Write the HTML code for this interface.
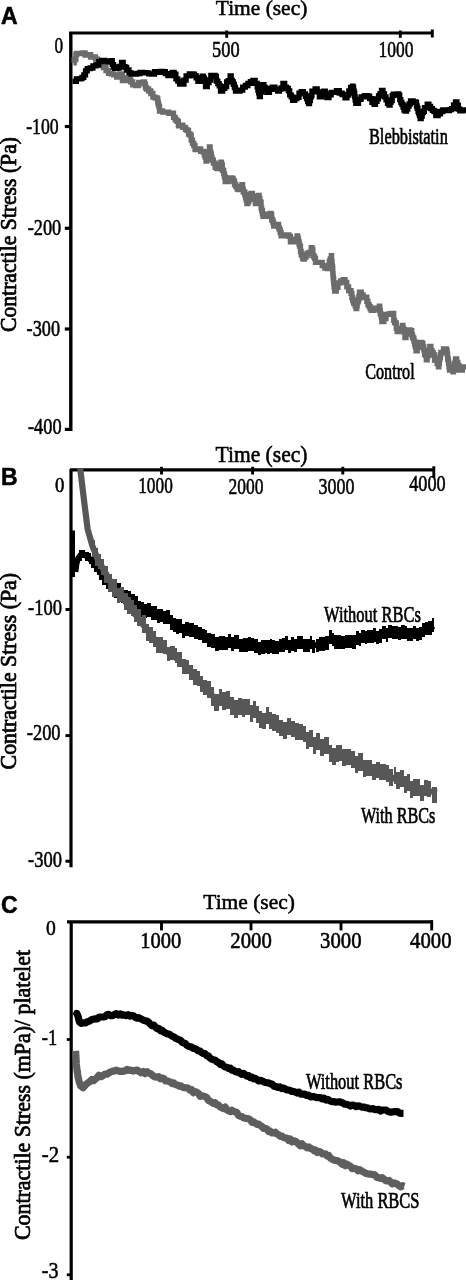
<!DOCTYPE html>
<html><head><meta charset="utf-8"><title>Figure</title>
<style>html,body{margin:0;padding:0;background:#fff;overflow:hidden}svg{display:block}</style></head>
<body><svg width="466" height="1280" viewBox="0 0 466 1280">
<rect width="466" height="1280" fill="#fff"/>
<defs><clipPath id="cb"><rect x="70" y="471.4" width="396" height="400"/></clipPath></defs>
<text x="1.0" y="23.7" font-family='"Liberation Sans", sans-serif' font-size="23" font-weight="bold" fill="#000" stroke="#000" stroke-width="0.55">A</text>
<text x="215.8" y="15.4" font-family='"Liberation Serif", serif' font-size="22" font-weight="normal" fill="#000" stroke="#000" stroke-width="0.55" textLength="91.5" lengthAdjust="spacingAndGlyphs">Time (sec)</text>
<line x1="69.1" y1="33.0" x2="433.0" y2="33.0" stroke="#000" stroke-width="3.1"/>
<line x1="226.7" y1="30.5" x2="226.7" y2="37.8" stroke="#000" stroke-width="2.9"/>
<line x1="400.3" y1="30.5" x2="400.3" y2="37.8" stroke="#000" stroke-width="2.9"/>
<line x1="432.3" y1="29.5" x2="432.3" y2="37.5" stroke="#000" stroke-width="2.9"/>
<line x1="70.8" y1="32.0" x2="70.8" y2="431.0" stroke="#000" stroke-width="3.4"/>
<line x1="64.8" y1="126.5" x2="70.0" y2="126.5" stroke="#000" stroke-width="3.2"/>
<line x1="64.8" y1="228.3" x2="70.0" y2="228.3" stroke="#000" stroke-width="3.2"/>
<line x1="64.8" y1="329.0" x2="70.0" y2="329.0" stroke="#000" stroke-width="3.2"/>
<line x1="64.8" y1="429.4" x2="70.0" y2="429.4" stroke="#000" stroke-width="3.2"/>
<text x="54.5" y="52.5" font-family='"Liberation Serif", serif' font-size="22.5" font-weight="normal" fill="#000" stroke="#000" stroke-width="0.55" textLength="8.6" lengthAdjust="spacingAndGlyphs">0</text>
<text x="26.2" y="134.2" font-family='"Liberation Serif", serif' font-size="22.5" font-weight="normal" fill="#000" stroke="#000" stroke-width="0.55" textLength="32.5" lengthAdjust="spacingAndGlyphs">-100</text>
<text x="27.7" y="235.0" font-family='"Liberation Serif", serif' font-size="22.5" font-weight="normal" fill="#000" stroke="#000" stroke-width="0.55" textLength="33.6" lengthAdjust="spacingAndGlyphs">-200</text>
<text x="26.6" y="336.0" font-family='"Liberation Serif", serif' font-size="22.5" font-weight="normal" fill="#000" stroke="#000" stroke-width="0.55" textLength="33.4" lengthAdjust="spacingAndGlyphs">-300</text>
<text x="28.0" y="433.7" font-family='"Liberation Serif", serif' font-size="22.5" font-weight="normal" fill="#000" stroke="#000" stroke-width="0.55" textLength="33.6" lengthAdjust="spacingAndGlyphs">-400</text>
<text x="212.0" y="56.9" font-family='"Liberation Serif", serif' font-size="22.5" font-weight="normal" fill="#000" stroke="#000" stroke-width="0.55" textLength="27.6" lengthAdjust="spacingAndGlyphs">500</text>
<text x="378.6" y="57.4" font-family='"Liberation Serif", serif' font-size="22.5" font-weight="normal" fill="#000" stroke="#000" stroke-width="0.55" textLength="35.0" lengthAdjust="spacingAndGlyphs">1000</text>
<text x="369.0" y="143.8" font-family='"Liberation Serif", serif' font-size="23" font-weight="normal" fill="#000" stroke="#000" stroke-width="0.7" textLength="78.8" lengthAdjust="spacingAndGlyphs">Blebbistatin</text>
<text x="365.2" y="378.8" font-family='"Liberation Serif", serif' font-size="23" font-weight="normal" fill="#000" stroke="#000" stroke-width="0.7" textLength="49.5" lengthAdjust="spacingAndGlyphs">Control</text>
<text transform="translate(15.7,332.0) rotate(-90)" font-family='"Liberation Serif", serif' font-size="22.5" fill="#000" stroke="#000" stroke-width="0.75" textLength="195.0" lengthAdjust="spacingAndGlyphs">Contractile Stress (Pa)</text>
<polyline points="73.4,62.9 74.2,62.9 74.2,59.8 75.1,59.8 75.1,59.0 75.9,59.0 75.9,54.5 76.7,54.5 76.7,53.5 79.5,53.5 79.5,53.5 82.3,53.5 82.3,53.0 85.1,53.0 85.1,55.1 87.9,55.1 87.9,54.7 90.7,54.7 90.7,57.1 93.5,57.1 93.5,57.0 95.5,57.0 95.5,59.1 97.5,59.1 97.5,62.2 99.5,62.2 99.5,65.6 101.5,65.6 101.5,65.2 103.5,65.2 103.5,67.6 106.0,67.6 106.0,70.6 108.5,70.6 108.5,73.4 111.1,73.4 111.1,73.8 113.6,73.8 113.6,74.8 116.7,74.8 116.7,77.0 119.8,77.0 119.8,74.0 122.4,74.0 122.4,80.7 126.7,80.7 126.7,77.9 128.7,77.9 128.7,79.7 130.7,79.7 130.7,81.9 132.7,81.9 132.7,84.8 135.7,84.8 135.7,85.6 138.7,85.6 138.7,82.4 141.1,82.4 141.1,82.8 143.5,82.8 143.5,82.0 144.5,82.0 144.5,84.1 145.5,84.1 145.5,87.7 146.5,87.7 146.5,89.0 148.6,89.0 148.6,91.0 150.8,91.0 150.8,93.5 152.9,93.5 152.9,97.1 155.1,97.1 155.1,97.8 157.2,97.8 157.2,98.9 157.8,98.9 157.8,102.4 158.3,102.4 158.3,104.6 158.9,104.6 158.9,106.7 159.5,106.7 159.5,111.0 162.7,111.0 162.7,112.2 165.8,112.2 165.8,112.1 168.8,112.1 168.8,113.3 171.8,113.3 171.8,113.1 173.5,113.1 173.5,117.3 175.2,117.3 175.2,119.8 176.9,119.8 176.9,121.3 178.4,121.3 178.4,125.9 180.0,125.9 180.0,125.2 182.8,125.2 182.8,127.4 185.5,127.4 185.5,129.7 187.0,129.7 187.0,130.3 188.5,130.3 188.5,134.0 190.0,134.0 190.0,135.1 191.2,135.1 191.2,140.2 192.5,140.2 192.5,143.4 193.8,143.4 193.8,145.7 195.0,145.7 195.0,149.7 197.8,149.7 197.8,148.9 200.6,148.9 200.6,151.3 203.4,151.3 203.4,152.1 204.3,152.1 204.3,154.8 205.1,154.8 205.1,157.1 206.0,157.1 206.0,161.2 206.8,161.2 206.8,158.6 207.7,158.6 207.7,154.1 208.6,154.1 208.6,151.9 209.4,151.9 209.4,146.9 210.1,146.9 210.1,151.6 210.7,151.6 210.7,153.9 211.4,153.9 211.4,157.6 212.1,157.6 212.1,159.6 212.7,159.6 212.7,160.3 213.4,160.3 213.4,163.1 215.1,163.1 215.1,167.4 216.8,167.4 216.8,168.6 218.1,168.6 218.1,167.8 219.5,167.8 219.5,164.6 220.8,164.6 220.8,162.2 221.5,162.2 221.5,164.8 222.3,164.8 222.3,170.0 223.0,170.0 223.0,170.6 223.7,170.6 223.7,173.8 224.5,173.8 224.5,177.0 225.2,177.0 225.2,181.5 228.5,181.5 228.5,177.9 231.8,177.9 231.8,178.3 233.1,178.3 233.1,181.0 234.5,181.0 234.5,184.5 235.8,184.5 235.8,186.7 237.2,186.7 237.2,189.2 238.5,189.2 238.5,189.5 240.2,189.5 240.2,187.5 241.9,187.5 241.9,184.7 242.6,184.7 242.6,189.1 243.3,189.1 243.3,192.0 244.0,192.0 244.0,191.9 244.8,191.9 244.8,194.7 245.5,194.7 245.5,197.5 246.2,197.5 246.2,200.2 246.9,200.2 246.9,203.6 247.9,203.6 247.9,201.5 248.9,201.5 248.9,197.8 249.9,197.8 249.9,194.4 250.9,194.4 250.9,193.3 252.4,193.3 252.4,196.0 253.8,196.0 253.8,199.4 255.3,199.4 255.3,203.5 257.0,203.5 257.0,199.3 258.6,199.3 258.6,195.4 259.2,195.4 259.2,198.6 259.9,198.6 259.9,201.6 260.5,201.6 260.5,202.4 261.1,202.4 261.1,208.1 261.7,208.1 261.7,210.6 262.4,210.6 262.4,213.8 263.0,213.8 263.0,216.4 266.6,216.4 266.6,214.2 270.3,214.2 270.3,213.4 271.0,213.4 271.0,215.0 271.7,215.0 271.7,219.5 272.3,219.5 272.3,220.3 273.0,220.3 273.0,222.9 273.7,222.9 273.7,226.1 277.7,226.1 277.7,224.3 278.6,224.3 278.6,227.8 279.4,227.8 279.4,229.7 280.2,229.7 280.2,232.5 281.1,232.5 281.1,235.9 284.1,235.9 284.1,234.9 287.1,234.9 287.1,235.0 288.8,235.0 288.8,236.4 290.4,236.4 290.4,241.8 293.8,241.8 293.8,239.2 297.1,239.2 297.1,235.9 297.8,235.9 297.8,238.9 298.5,238.9 298.5,241.8 299.1,241.8 299.1,244.5 299.8,244.5 299.8,246.3 300.5,246.3 300.5,251.3 301.2,251.3 301.2,254.4 301.8,254.4 301.8,255.3 302.5,255.3 302.5,257.9 303.2,257.9 303.2,259.2 304.5,259.2 304.5,257.0 305.9,257.0 305.9,255.6 307.2,255.6 307.2,253.1 309.2,253.1 309.2,252.5 311.2,252.5 311.2,247.6 312.1,247.6 312.1,249.9 312.9,249.9 312.9,255.7 313.8,255.7 313.8,256.9 314.6,256.9 314.6,258.3 315.5,258.3 315.5,262.3 318.9,262.3 318.9,262.3 322.2,262.3 322.2,265.7 324.8,265.7 324.8,268.1 327.3,268.1 327.3,268.5 328.3,268.5 328.3,265.3 329.3,265.3 329.3,261.2 330.3,261.2 330.3,259.0 331.3,259.0 331.3,255.7 331.6,255.7 331.6,260.4 331.8,260.4 331.8,262.2 332.1,262.2 332.1,265.6 332.3,265.6 332.3,266.7 332.6,266.7 332.6,269.0 332.8,269.0 332.8,273.6 333.1,273.6 333.1,276.9 333.3,276.9 333.3,279.0 333.6,279.0 333.6,281.5 333.8,281.5 333.8,284.2 334.1,284.2 334.1,286.6 334.3,286.6 334.3,287.4 334.6,287.4 334.6,291.1 336.3,291.1 336.3,287.3 338.0,287.3 338.0,282.9 340.6,282.9 340.6,280.8 343.2,280.8 343.2,279.7 345.0,279.7 345.0,282.4 346.8,282.4 346.8,286.8 348.6,286.8 348.6,290.6 351.0,290.6 351.0,293.3 351.9,293.3 351.9,297.6 352.7,297.6 352.7,300.5 353.6,300.5 353.6,303.0 354.4,303.0 354.4,303.6 355.2,303.6 355.2,305.8 356.1,305.8 356.1,308.5 356.7,308.5 356.7,305.5 357.2,305.5 357.2,302.7 357.8,302.7 357.8,301.2 358.4,301.2 358.4,299.3 358.9,299.3 358.9,296.2 359.5,296.2 359.5,292.1 361.3,292.1 361.3,294.9 363.1,294.9 363.1,297.5 365.0,297.5 365.0,297.2 366.8,297.2 366.8,301.3 367.9,301.3 367.9,304.6 369.1,304.6 369.1,306.6 370.2,306.6 370.2,308.9 371.3,308.9 371.3,310.4 374.0,310.4 374.0,308.2 376.6,308.2 376.6,309.0 379.3,309.0 379.3,306.2 379.8,306.2 379.8,310.5 380.3,310.5 380.3,313.7 380.8,313.7 380.8,314.4 381.3,314.4 381.3,317.1 381.8,317.1 381.8,321.6 383.9,321.6 383.9,318.6 386.0,318.6 386.0,314.4 388.6,314.4 388.6,313.8 391.2,313.8 391.2,313.4 393.7,313.4 393.7,320.3 394.6,320.3 394.6,322.7 395.4,322.7 395.4,323.2 396.3,323.2 396.3,328.3 397.2,328.3 397.2,331.6 399.8,331.6 399.8,328.4 402.3,328.4 402.3,325.3 402.9,325.3 402.9,328.5 403.6,328.5 403.6,329.6 404.2,329.6 404.2,331.8 404.9,331.8 404.9,337.6 406.0,337.6 406.0,333.9 407.2,333.9 407.2,331.0 408.3,331.0 408.3,329.8 410.1,329.8 410.1,330.7 411.8,330.7 411.8,334.8 412.5,334.8 412.5,337.5 413.2,337.5 413.2,338.2 413.9,338.2 413.9,341.2 414.6,341.2 414.6,344.2 415.3,344.2 415.3,346.9 416.0,346.9 416.0,350.9 417.3,350.9 417.3,347.4 418.6,347.4 418.6,345.6 419.9,345.6 419.9,342.3 421.2,342.3 421.2,342.6 422.1,342.6 422.1,343.6 422.9,343.6 422.9,346.8 423.8,346.8 423.8,350.1 424.6,350.1 424.6,354.0 425.4,354.0 425.4,355.3 426.3,355.3 426.3,359.8 427.2,359.8 427.2,355.8 428.1,355.8 428.1,353.3 428.9,353.3 428.9,350.7 429.8,350.7 429.8,346.4 430.9,346.4 430.9,350.7 432.1,350.7 432.1,352.7 433.2,352.7 433.2,355.0 434.5,355.0 434.5,360.1 435.8,360.1 435.8,360.3 437.1,360.3 437.1,363.7 438.4,363.7 438.4,366.9 438.9,366.9 438.9,363.4 439.4,363.4 439.4,359.7 439.9,359.7 439.9,357.4 440.4,357.4 440.4,354.6 440.9,354.6 440.9,352.5 443.5,352.5 443.5,348.9 446.1,348.9 446.1,349.1 446.6,349.1 446.6,350.9 447.1,350.9 447.1,353.8 447.6,353.8 447.6,358.3 448.0,358.3 448.0,360.2 448.5,360.2 448.5,363.3 449.0,363.3 449.0,366.8 449.5,366.8 449.5,370.1 453.0,370.1 453.0,371.9 453.5,371.9 453.5,369.9 454.0,369.9 454.0,367.0 454.5,367.0 454.5,364.4 455.0,364.4 455.0,362.4 455.5,362.4 455.5,359.0 456.7,359.0 456.7,362.5 457.8,362.5 457.8,365.5 459.0,365.5 459.0,370.2 462.4,370.2 462.4,366.8 466.0,366.8 466.0,365.7" fill="none" stroke="#6c6c6c" stroke-width="5.3" stroke-linejoin="miter" stroke-linecap="butt"/>
<polyline points="72.5,81.4 76.4,81.4 76.4,78.9 80.3,78.9 80.3,78.7 82.0,78.7 82.0,77.4 83.8,77.4 83.8,74.9 85.5,74.9 85.5,70.9 87.2,70.9 87.2,68.6 90.1,68.6 90.1,68.0 92.9,68.0 92.9,65.8 95.8,65.8 95.8,64.9 98.8,64.9 98.8,61.7 101.8,61.7 101.8,60.4 104.9,60.4 104.9,61.2 108.1,61.2 108.1,62.0 111.2,62.0 111.2,60.7 112.3,60.7 112.3,64.6 113.5,64.6 113.5,67.0 114.6,67.0 114.6,68.3 116.9,68.3 116.9,68.1 119.2,68.1 119.2,66.3 121.5,66.3 121.5,62.5 123.2,62.5 123.2,66.6 125.0,66.6 125.0,67.5 126.7,67.5 126.7,70.0 129.0,70.0 129.0,72.8 131.2,72.8 131.2,74.1 133.5,74.1 133.5,74.2 136.8,74.2 136.8,73.5 140.0,73.5 140.0,72.3 142.9,72.3 142.9,72.6 145.7,72.6 145.7,72.9 148.6,72.9 148.6,73.9 151.6,73.9 151.6,74.1 154.5,74.1 154.5,71.7 157.4,71.7 157.4,72.3 160.4,72.3 160.4,71.4 162.9,71.4 162.9,71.6 165.4,71.6 165.4,73.7 167.9,73.7 167.9,75.7 172.2,75.7 172.2,72.5 174.1,72.5 174.1,74.1 175.9,74.1 175.9,78.9 177.8,78.9 177.8,81.1 179.7,81.1 179.7,84.1 184.0,84.1 184.0,80.1 186.1,80.1 186.1,75.9 189.3,75.9 189.3,73.9 192.6,73.9 192.6,74.2 194.4,74.2 194.4,75.6 196.1,75.6 196.1,77.9 197.9,77.9 197.9,81.3 200.1,81.3 200.1,79.4 202.2,79.4 202.2,76.2 203.3,76.2 203.3,78.2 204.4,78.2 204.4,81.3 205.5,81.3 205.5,86.5 207.3,86.5 207.3,82.7 209.0,82.7 209.0,80.0 210.8,80.0 210.8,75.5 215.1,75.5 215.1,76.5 216.4,76.5 216.4,81.2 217.8,81.2 217.8,83.6 219.2,83.6 219.2,85.9 220.5,85.9 220.5,91.1 222.7,91.1 222.7,88.3 224.8,88.3 224.8,86.7 226.6,86.7 226.6,81.9 228.3,81.9 228.3,80.7 230.1,80.7 230.1,75.8 231.2,75.8 231.2,80.3 232.3,80.3 232.3,82.0 233.3,82.0 233.3,84.3 234.4,84.3 234.4,87.5 235.5,87.5 235.5,91.0 240.0,91.0 240.0,90.2 242.7,90.2 242.7,87.2 245.4,87.2 245.4,85.5 247.9,85.5 247.9,83.3 250.4,83.3 250.4,81.6 252.9,81.6 252.9,80.3 255.1,80.3 255.1,83.3 257.2,83.3 257.2,86.9 257.9,86.9 257.9,90.0 258.6,90.0 258.6,92.8 259.3,92.8 259.3,96.7 260.4,96.7 260.4,92.0 261.4,92.0 261.4,89.0 262.5,89.0 262.5,84.6 263.9,84.6 263.9,87.5 265.4,87.5 265.4,89.2 266.8,89.2 266.8,92.3 269.5,92.3 269.5,88.5 272.2,88.5 272.2,87.1 274.9,87.1 274.9,89.3 277.6,89.3 277.6,91.1 279.4,91.1 279.4,89.2 281.1,89.2 281.1,87.8 282.9,87.8 282.9,83.4 284.7,83.4 284.7,87.2 286.5,87.2 286.5,88.5 288.3,88.5 288.3,90.8 289.7,90.8 289.7,94.8 291.2,94.8 291.2,96.9 292.6,96.9 292.6,100.4 294.8,100.4 294.8,98.7 296.9,98.7 296.9,97.3 299.0,97.3 299.0,93.1 301.2,93.1 301.2,91.6 303.4,91.6 303.4,93.9 305.5,93.9 305.5,96.4 306.6,96.4 306.6,98.7 307.6,98.7 307.6,101.5 308.7,101.5 308.7,103.6 309.5,103.6 309.5,100.6 310.3,100.6 310.3,97.2 311.1,97.2 311.1,95.6 311.9,95.6 311.9,91.2 315.1,91.2 315.1,88.9 317.2,88.9 317.2,91.9 319.4,91.9 319.4,96.9 321.5,96.9 321.5,94.3 323.7,94.3 323.7,91.2 325.3,91.2 325.3,94.0 326.9,94.0 326.9,97.7 329.0,97.7 329.0,94.9 331.2,94.9 331.2,92.4 336.4,92.4 336.4,90.7 339.3,90.7 339.3,93.1 342.1,93.1 342.1,94.5 345.0,94.5 345.0,97.9 346.9,97.9 346.9,95.0 348.8,95.0 348.8,91.0 350.6,91.0 350.6,87.3 352.5,87.3 352.5,86.1 353.1,86.1 353.1,87.6 353.6,87.6 353.6,90.8 354.1,90.8 354.1,93.0 354.7,93.0 354.7,96.9 355.2,96.9 355.2,100.2 355.8,100.2 355.8,103.3 358.5,103.3 358.5,99.3 361.1,99.3 361.1,96.8 364.4,96.8 364.4,95.6 367.6,95.6 367.6,96.2 369.7,96.2 369.7,98.7 371.9,98.7 371.9,102.3 374.0,102.3 374.0,104.3 375.5,104.3 375.5,101.3 377.0,101.3 377.0,98.9 378.5,98.9 378.5,95.8 380.0,95.8 380.0,93.6 381.5,93.6 381.5,90.5 383.0,90.5 383.0,94.0 384.5,94.0 384.5,96.8 386.0,96.8 386.0,99.9 387.5,99.9 387.5,103.3 389.0,103.3 389.0,105.1 390.1,105.1 390.1,102.0 391.1,102.0 391.1,100.7 392.2,100.7 392.2,95.7 393.3,95.7 393.3,94.1 397.6,94.1 397.6,93.9 398.7,93.9 398.7,95.1 399.7,95.1 399.7,99.6 400.8,99.6 400.8,102.4 401.9,102.4 401.9,104.4 403.0,104.4 403.0,107.2 404.0,107.2 404.0,110.0 405.1,110.0 405.1,111.0 406.5,111.0 406.5,109.0 407.8,109.0 407.8,106.0 409.1,106.0 409.1,103.9 410.5,103.9 410.5,100.8 413.1,100.8 413.1,101.9 415.8,101.9 415.8,102.4 416.5,102.4 416.5,106.0 417.2,106.0 417.2,108.4 418.0,108.4 418.0,111.3 418.7,111.3 418.7,113.0 419.4,113.0 419.4,115.4 420.1,115.4 420.1,118.5 421.2,118.5 421.2,116.1 422.2,116.1 422.2,112.6 423.3,112.6 423.3,111.4 424.4,111.4 424.4,107.7 427.2,107.7 427.2,104.1 428.9,104.1 428.9,106.3 430.6,106.3 430.6,108.7 432.4,108.7 432.4,110.4 434.1,110.4 434.1,111.5 435.8,111.5 435.8,115.6 438.1,115.6 438.1,113.8 440.4,113.8 440.4,111.5 442.7,111.5 442.7,109.9 446.1,109.9 446.1,110.6 449.5,110.6 449.5,109.6 451.5,109.6 451.5,108.6 453.5,108.6 453.5,104.9 455.5,104.9 455.5,101.9 456.9,101.9 456.9,105.2 458.4,105.2 458.4,109.2 459.8,109.2 459.8,110.8 462.9,110.8 462.9,109.9 466.0,109.9 466.0,108.3" fill="none" stroke="#000" stroke-width="5.3" stroke-linejoin="miter" stroke-linecap="butt"/>
<text x="1.0" y="484.8" font-family='"Liberation Sans", sans-serif' font-size="23" font-weight="bold" fill="#000" stroke="#000" stroke-width="0.55">B</text>
<text x="215.5" y="462.4" font-family='"Liberation Serif", serif' font-size="23" font-weight="normal" fill="#000" stroke="#000" stroke-width="0.55" textLength="92.0" lengthAdjust="spacingAndGlyphs">Time (sec)</text>
<line x1="70.0" y1="469.8" x2="435.0" y2="469.8" stroke="#000" stroke-width="3.3"/>
<line x1="161.5" y1="466.8" x2="161.5" y2="474.5" stroke="#000" stroke-width="2.9"/>
<line x1="252.6" y1="466.8" x2="252.6" y2="474.5" stroke="#000" stroke-width="2.9"/>
<line x1="342.8" y1="466.8" x2="342.8" y2="474.5" stroke="#000" stroke-width="2.9"/>
<line x1="433.8" y1="466.3" x2="433.8" y2="478.0" stroke="#000" stroke-width="2.9"/>
<line x1="71.0" y1="469.0" x2="71.0" y2="867.3" stroke="#000" stroke-width="3.2"/>
<line x1="65.5" y1="609.5" x2="71.0" y2="609.5" stroke="#000" stroke-width="3"/>
<line x1="65.5" y1="735.6" x2="71.0" y2="735.6" stroke="#000" stroke-width="3"/>
<line x1="65.5" y1="861.2" x2="71.0" y2="861.2" stroke="#000" stroke-width="3"/>
<text x="55.0" y="491.8" font-family='"Liberation Serif", serif' font-size="21.5" font-weight="normal" fill="#000" stroke="#000" stroke-width="0.55" textLength="9.4" lengthAdjust="spacingAndGlyphs">0</text>
<text x="138.2" y="492.9" font-family='"Liberation Serif", serif' font-size="22.5" font-weight="normal" fill="#000" stroke="#000" stroke-width="0.55" textLength="34.6" lengthAdjust="spacingAndGlyphs">1000</text>
<text x="228.6" y="493.9" font-family='"Liberation Serif", serif' font-size="22.5" font-weight="normal" fill="#000" stroke="#000" stroke-width="0.55" textLength="35.0" lengthAdjust="spacingAndGlyphs">2000</text>
<text x="318.5" y="493.9" font-family='"Liberation Serif", serif' font-size="22.5" font-weight="normal" fill="#000" stroke="#000" stroke-width="0.55" textLength="36.0" lengthAdjust="spacingAndGlyphs">3000</text>
<text x="409.2" y="490.8" font-family='"Liberation Serif", serif' font-size="22.5" font-weight="normal" fill="#000" stroke="#000" stroke-width="0.55" textLength="36.5" lengthAdjust="spacingAndGlyphs">4000</text>
<text x="28.0" y="614.5" font-family='"Liberation Serif", serif' font-size="22.5" font-weight="normal" fill="#000" stroke="#000" stroke-width="0.55" textLength="34.0" lengthAdjust="spacingAndGlyphs">-100</text>
<text x="26.8" y="740.2" font-family='"Liberation Serif", serif' font-size="22.5" font-weight="normal" fill="#000" stroke="#000" stroke-width="0.55" textLength="33.8" lengthAdjust="spacingAndGlyphs">-200</text>
<text x="28.0" y="867.0" font-family='"Liberation Serif", serif' font-size="22.5" font-weight="normal" fill="#000" stroke="#000" stroke-width="0.55" textLength="34.0" lengthAdjust="spacingAndGlyphs">-300</text>
<text x="324.0" y="622.0" font-family='"Liberation Serif", serif' font-size="23.5" font-weight="normal" fill="#000" stroke="#000" stroke-width="0.7" textLength="96.8" lengthAdjust="spacingAndGlyphs">Without RBCs</text>
<text x="361.0" y="822.7" font-family='"Liberation Serif", serif' font-size="23.5" font-weight="normal" fill="#000" stroke="#000" stroke-width="0.7" textLength="74.4" lengthAdjust="spacingAndGlyphs">With RBCs</text>
<text transform="translate(15.8,769.4) rotate(-90)" font-family='"Liberation Serif", serif' font-size="22.5" fill="#000" stroke="#000" stroke-width="0.75" textLength="196.5" lengthAdjust="spacingAndGlyphs">Contractile Stress (Pa)</text>
<rect x="71" y="530.5" width="4" height="46.5" fill="#000"/>
<polyline points="75.5,572.0 76.5,564.0 78.0,558.5 80.5,555.0 83.5,554.0 88.5,557.5 93.5,563.0 100.2,572.0 108.6,583.5 120.3,593.0 132.0,602.0 143.7,608.8 157.1,615.5 170.5,620.5 183.9,628.7 197.3,633.7 206.0,637.0 216.8,642.0 233.5,642.0 250.3,645.3 267.0,647.7 283.7,645.3 300.5,643.0 317.2,645.3 330.6,638.6 346.8,643.7 360.2,638.6 377.0,635.3 390.3,632.0 407.0,633.6 420.5,632.0 433.9,626.0" fill="none" stroke="#000" stroke-width="5.8" stroke-linejoin="round" stroke-linecap="butt"/>
<path d="M78.7 550.2h3.0v10.5h-3.0zM81.7 550.3h3.5v8.1h-3.5zM85.2 551.8h3.4v9.5h-3.4zM88.6 552.8h2.5v11.2h-2.5zM91.1 556.5h2.8v11.7h-2.8zM93.9 559.0h2.9v13.3h-2.9zM96.8 561.1h2.4v13.8h-2.4zM99.2 565.9h2.8v14.4h-2.8zM102.1 569.9h3.5v15.0h-3.5zM105.6 573.5h2.9v15.6h-2.9zM108.4 577.6h3.1v13.8h-3.1zM111.6 581.5h2.6v14.0h-2.6zM114.2 583.9h2.7v14.2h-2.7zM116.9 582.7h3.9v14.3h-3.9zM120.8 588.7h3.1v14.4h-3.1zM123.9 589.8h3.9v14.6h-3.9zM127.9 591.2h2.8v14.8h-2.8zM130.7 594.0h3.9v14.3h-3.9zM134.6 595.8h3.3v14.2h-3.3zM137.9 601.3h3.2v14.2h-3.2zM141.2 602.4h2.6v14.2h-2.6zM143.8 604.4h3.2v14.0h-3.2zM147.0 603.2h3.5v14.0h-3.5zM150.5 606.1h3.8v14.0h-3.8zM154.4 605.6h2.4v14.0h-2.4zM156.8 608.9h3.2v13.7h-3.2zM160.0 608.7h2.9v13.7h-2.9zM162.9 610.5h3.0v13.7h-3.0zM165.8 610.4h3.7v13.7h-3.7zM169.6 615.4h3.6v14.3h-3.6zM173.2 617.6h2.6v14.3h-2.6zM175.8 619.4h3.5v14.3h-3.5zM179.3 619.0h2.9v14.3h-2.9zM182.2 623.7h3.0v14.1h-3.0zM185.2 622.3h3.3v13.7h-3.3zM188.5 623.2h3.1v13.7h-3.1zM191.6 623.4h2.5v13.7h-2.5zM194.1 625.4h3.7v13.7h-3.7zM197.8 626.7h3.9v13.7h-3.9zM201.7 629.1h2.8v13.7h-2.8zM204.5 629.5h2.7v13.8h-2.7zM207.3 633.2h3.9v13.9h-3.9zM211.2 633.9h3.7v13.9h-3.7zM214.9 637.2h3.9v13.4h-3.9zM218.7 636.3h3.3v13.3h-3.3zM222.0 636.4h2.5v13.3h-2.5zM224.5 636.5h3.1v13.3h-3.1zM227.6 634.4h3.4v13.3h-3.4zM231.1 637.2h2.5v13.3h-2.5zM233.5 635.4h2.6v13.4h-2.6zM236.1 635.2h2.9v13.4h-2.9zM239.1 638.8h3.6v13.4h-3.6zM242.7 638.1h2.8v13.4h-2.8zM245.5 638.2h2.9v13.4h-2.9zM248.4 637.1h3.0v13.4h-3.0zM251.4 637.7h2.7v13.4h-2.7zM254.1 639.4h3.8v13.4h-3.8zM257.9 641.7h2.8v13.4h-2.8zM260.7 640.2h4.0v13.4h-4.0zM264.7 639.5h2.6v13.4h-2.6zM267.3 640.1h2.5v13.4h-2.5zM269.8 639.3h2.5v13.4h-2.5zM272.4 640.4h2.8v13.4h-2.8zM275.2 640.7h3.8v13.4h-3.8zM279.0 638.7h3.1v13.4h-3.1zM282.1 638.1h3.2v13.4h-3.2zM285.3 636.3h2.9v13.4h-2.9zM288.2 639.9h2.8v13.4h-2.8zM291.1 637.4h2.6v13.4h-2.6zM293.7 638.6h3.4v13.4h-3.4zM297.1 635.6h2.7v13.4h-2.7zM299.8 636.0h2.8v13.3h-2.8zM302.6 638.8h3.1v13.4h-3.1zM305.7 638.9h3.8v13.4h-3.8zM309.5 635.7h2.4v13.4h-2.4zM311.9 639.9h3.5v13.4h-3.5zM315.5 639.0h3.2v13.3h-3.2zM318.6 636.5h2.4v14.0h-2.4zM321.0 636.9h3.9v14.0h-3.9zM324.9 635.6h3.8v14.0h-3.8zM328.7 630.3h2.8v13.7h-2.8zM331.5 632.6h2.6v13.6h-2.6zM334.1 635.4h3.5v13.6h-3.5zM337.6 635.2h3.6v13.6h-3.6zM341.2 635.5h3.6v13.6h-3.6zM344.8 634.9h3.3v13.3h-3.3zM348.1 634.5h3.7v13.7h-3.7zM351.7 634.9h3.9v13.7h-3.9zM355.6 631.3h2.9v13.7h-2.9zM358.5 632.5h2.8v13.6h-2.8zM361.3 629.6h3.5v13.4h-3.5zM364.8 630.8h2.5v13.4h-2.5zM367.3 629.7h3.3v13.4h-3.3zM370.7 630.0h2.8v13.4h-2.8zM373.4 628.2h2.4v13.4h-2.4zM375.8 630.5h3.1v13.5h-3.1zM379.0 629.3h3.4v13.5h-3.4zM382.4 625.7h3.2v13.5h-3.2zM385.6 628.1h2.8v13.5h-2.8zM388.4 624.5h3.5v13.3h-3.5zM391.9 625.6h2.4v13.3h-2.4zM394.3 625.5h3.5v13.3h-3.5zM397.8 626.9h2.8v13.3h-2.8zM400.6 625.3h3.9v13.3h-3.9zM404.5 626.1h2.5v13.3h-2.5zM406.9 627.6h3.1v13.3h-3.1zM410.0 627.7h2.7v13.3h-2.7zM412.7 626.1h3.6v13.3h-3.6zM416.3 627.7h2.7v13.3h-2.7zM419.0 626.6h2.9v13.5h-2.9zM421.9 622.6h2.8v13.9h-2.8zM424.7 621.5h3.6v13.9h-3.6zM428.3 620.7h3.9v13.9h-3.9zM432.3 618.2h1.6v13.9h-1.6z" fill="#000" shape-rendering="crispEdges" clip-path="url(#cb)"/>
<polyline points="80.2,468.5 84.6,505.0 87.6,529.0 92.3,545.7 98.0,560.0 104.8,571.5 115.5,590.8 122.5,598.0 131.5,609.5 140.4,621.0 150.4,634.5 163.4,648.5 176.8,658.5 190.2,670.8 203.6,685.5 213.6,697.3 227.0,702.0 240.4,707.9 253.8,712.6 267.2,718.5 280.6,726.3 294.0,731.0 305.1,736.3 320.2,745.3 335.3,754.3 350.4,758.5 365.5,768.3 380.6,773.0 395.7,779.0 410.8,785.5 425.9,790.5 437.0,792.5" fill="none" stroke="#575757" stroke-width="6.2" stroke-linejoin="round" stroke-linecap="butt"/>
<path d="M92.0 539.7h3.0v17.5h-3.0zM94.9 547.6h3.1v18.4h-3.1zM98.0 554.2h3.0v14.8h-3.0zM101.0 559.3h2.8v15.6h-2.8zM103.8 566.3h4.3v17.1h-4.3zM108.1 574.1h4.0v17.8h-4.0zM112.1 578.6h4.4v18.4h-4.4zM116.5 587.9h3.0v15.2h-3.0zM119.5 586.8h4.0v15.5h-4.0zM123.6 592.8h3.9v16.7h-3.9zM127.5 597.2h3.4v16.8h-3.4zM130.8 599.5h3.0v16.9h-3.0zM133.8 605.3h3.2v16.9h-3.2zM137.0 609.0h4.4v16.9h-4.4zM141.5 615.2h4.4v17.3h-4.4zM145.9 623.8h3.3v17.3h-3.3zM149.2 627.1h4.2v16.0h-4.2zM153.4 631.1h2.8v16.0h-2.8zM156.2 636.8h3.4v16.0h-3.4zM159.6 637.3h3.0v15.9h-3.0zM162.6 639.8h4.3v14.5h-4.3zM166.9 646.8h3.4v14.5h-3.4zM170.4 645.6h4.1v14.4h-4.1zM174.5 648.3h2.8v14.4h-2.8zM177.2 652.1h4.4v15.0h-4.4zM181.6 659.3h4.0v15.0h-4.0zM185.6 659.5h3.3v14.9h-3.3zM188.9 664.6h4.4v15.7h-4.4zM193.3 669.3h3.2v15.6h-3.2zM196.5 670.6h3.3v15.6h-3.3zM199.8 676.3h2.7v15.6h-2.7zM202.5 679.5h4.3v15.9h-4.3zM206.8 681.1h4.4v16.5h-4.4zM211.2 686.8h3.1v18.8h-3.1zM214.4 693.5h4.4v17.8h-4.4zM218.8 688.6h3.4v17.8h-3.4zM222.2 692.0h3.5v17.8h-3.5zM225.7 690.6h4.4v18.0h-4.4zM230.0 697.4h4.1v18.0h-4.1zM234.2 699.5h4.2v18.0h-4.2zM238.4 697.6h3.8v17.5h-3.8zM242.1 699.4h3.3v17.1h-3.3zM245.4 698.7h4.1v16.7h-4.1zM249.5 705.4h3.1v16.5h-3.1zM252.6 701.1h3.1v16.6h-3.1zM255.7 706.1h2.8v16.7h-2.8zM258.5 710.8h3.3v16.7h-3.3zM261.8 712.5h4.3v16.7h-4.3zM266.1 707.0h3.2v17.0h-3.2zM269.2 712.0h2.9v17.1h-2.9zM272.1 713.6h4.0v17.1h-4.0zM276.1 715.4h3.1v17.1h-3.1zM279.2 719.6h3.8v16.6h-3.8zM283.0 722.3h4.0v16.5h-4.0zM287.1 718.1h3.9v16.5h-3.9zM291.0 720.8h4.2v16.5h-4.2zM295.2 723.1h3.7v16.8h-3.7zM298.9 723.6h4.0v16.8h-4.0zM302.9 725.6h3.1v16.8h-3.1zM306.1 732.2h3.0v17.1h-3.0zM309.1 729.9h3.7v17.1h-3.7zM312.8 737.2h3.4v17.1h-3.4zM316.2 733.3h3.6v17.1h-3.6zM319.8 739.0h4.2v17.1h-4.2zM324.0 737.2h4.5v17.1h-4.5zM328.5 745.2h3.6v17.1h-3.6zM332.0 748.3h4.2v17.1h-4.2zM336.2 745.2h2.8v16.3h-2.8zM339.0 745.1h2.9v16.3h-2.9zM341.9 749.2h4.5v16.3h-4.5zM346.4 748.8h4.4v16.3h-4.4zM350.7 751.1h4.3v17.3h-4.3zM355.0 756.0h3.2v17.3h-3.2zM358.2 753.3h4.4v17.3h-4.4zM362.6 759.9h3.8v17.3h-3.8zM366.3 759.8h3.1v16.4h-3.1zM369.4 759.5h3.0v16.4h-3.0zM372.4 763.5h3.2v16.4h-3.2zM375.6 761.5h3.9v16.4h-3.9zM379.4 763.5h2.7v16.5h-2.7zM382.1 763.7h3.9v16.6h-3.9zM386.1 765.2h3.3v16.6h-3.3zM389.3 769.4h4.1v16.6h-4.1zM393.5 767.3h2.8v16.6h-2.8zM396.3 772.0h3.4v16.7h-3.4zM399.7 770.0h3.9v16.7h-3.9zM403.5 776.2h3.0v16.7h-3.0zM406.5 774.4h3.4v16.7h-3.4zM410.0 781.1h3.3v16.4h-3.3zM413.2 779.1h3.3v16.4h-3.3zM416.5 779.1h3.3v16.4h-3.3zM419.8 784.9h4.3v16.4h-4.3zM424.1 779.9h3.4v16.3h-3.4zM427.4 780.7h4.0v16.2h-4.0zM431.5 786.8h2.7v16.2h-2.7zM434.2 786.6h2.8v16.2h-2.8z" fill="#575757" shape-rendering="crispEdges" clip-path="url(#cb)"/>
<text x="1.0" y="913.0" font-family='"Liberation Sans", sans-serif' font-size="23" font-weight="bold" fill="#000" stroke="#000" stroke-width="0.55">C</text>
<text x="203.3" y="908.7" font-family='"Liberation Serif", serif' font-size="21.5" font-weight="normal" fill="#000" stroke="#000" stroke-width="0.55" textLength="91.5" lengthAdjust="spacingAndGlyphs">Time (sec)</text>
<line x1="67.0" y1="921.8" x2="433.0" y2="921.8" stroke="#000" stroke-width="3.3"/>
<line x1="161.5" y1="921.0" x2="161.5" y2="930.4" stroke="#000" stroke-width="2.9"/>
<line x1="251.0" y1="921.0" x2="251.0" y2="930.4" stroke="#000" stroke-width="2.9"/>
<line x1="341.0" y1="921.0" x2="341.0" y2="930.4" stroke="#000" stroke-width="2.9"/>
<line x1="431.7" y1="920.3" x2="431.7" y2="930.4" stroke="#000" stroke-width="2.9"/>
<line x1="71.2" y1="921.0" x2="71.2" y2="1280.0" stroke="#000" stroke-width="3.2"/>
<line x1="66.8" y1="1039.5" x2="71.0" y2="1039.5" stroke="#000" stroke-width="2.8"/>
<line x1="66.8" y1="1157.2" x2="71.0" y2="1157.2" stroke="#000" stroke-width="2.8"/>
<line x1="66.8" y1="1274.8" x2="71.0" y2="1274.8" stroke="#000" stroke-width="2.8"/>
<text x="46.0" y="934.8" font-family='"Liberation Serif", serif' font-size="21.5" font-weight="normal" fill="#000" stroke="#000" stroke-width="0.55" textLength="9.8" lengthAdjust="spacingAndGlyphs">0</text>
<text x="140.2" y="947.8" font-family='"Liberation Serif", serif' font-size="22.5" font-weight="normal" fill="#000" stroke="#000" stroke-width="0.55" textLength="41.0" lengthAdjust="spacingAndGlyphs">1000</text>
<text x="230.3" y="947.8" font-family='"Liberation Serif", serif' font-size="22.5" font-weight="normal" fill="#000" stroke="#000" stroke-width="0.55" textLength="41.5" lengthAdjust="spacingAndGlyphs">2000</text>
<text x="320.0" y="947.8" font-family='"Liberation Serif", serif' font-size="22.5" font-weight="normal" fill="#000" stroke="#000" stroke-width="0.55" textLength="41.5" lengthAdjust="spacingAndGlyphs">3000</text>
<text x="410.0" y="947.8" font-family='"Liberation Serif", serif' font-size="22.5" font-weight="normal" fill="#000" stroke="#000" stroke-width="0.55" textLength="41.5" lengthAdjust="spacingAndGlyphs">4000</text>
<text x="41.8" y="1044.6" font-family='"Liberation Serif", serif' font-size="22.5" font-weight="normal" fill="#000" stroke="#000" stroke-width="0.55" textLength="15.4" lengthAdjust="spacingAndGlyphs">-1</text>
<text x="41.8" y="1161.6" font-family='"Liberation Serif", serif' font-size="22.5" font-weight="normal" fill="#000" stroke="#000" stroke-width="0.55" textLength="17.3" lengthAdjust="spacingAndGlyphs">-2</text>
<text x="41.8" y="1278.4" font-family='"Liberation Serif", serif' font-size="22.5" font-weight="normal" fill="#000" stroke="#000" stroke-width="0.55" textLength="16.7" lengthAdjust="spacingAndGlyphs">-3</text>
<text x="305.9" y="1089.0" font-family='"Liberation Serif", serif' font-size="23.5" font-weight="normal" fill="#000" stroke="#000" stroke-width="0.7" textLength="96.6" lengthAdjust="spacingAndGlyphs">Without RBCs</text>
<text x="341.0" y="1207.8" font-family='"Liberation Serif", serif' font-size="23.5" font-weight="normal" fill="#000" stroke="#000" stroke-width="0.7" textLength="78.5" lengthAdjust="spacingAndGlyphs">With RBCS</text>
<text transform="translate(30.3,1240.0) rotate(-90)" font-family='"Liberation Serif", serif' font-size="23" fill="#000" stroke="#000" stroke-width="0.75" textLength="290.0" lengthAdjust="spacingAndGlyphs">Contractile Stress (mPa)/ platelet</text>
<polyline points="75.1,1016.6 75.9,1015.8 76.8,1013.4 77.5,1015.0 78.2,1016.8 78.8,1019.8 79.5,1022.1 81.5,1023.4 83.5,1022.8 85.5,1022.9 87.5,1021.7 89.5,1021.1 91.5,1019.7 93.5,1019.1 95.4,1018.9 97.3,1019.0 99.2,1017.0 101.2,1017.0 103.1,1017.0 105.0,1016.7 106.9,1014.7 108.8,1014.4 110.7,1015.7 112.6,1015.6 114.6,1014.5 116.5,1013.6 118.4,1015.0 120.3,1013.9 122.2,1015.1 124.1,1014.9 126.0,1015.6 128.0,1014.7 129.9,1016.1 131.8,1015.4 133.7,1016.0 135.4,1017.5 137.0,1018.2 138.7,1017.7 140.4,1018.5 142.1,1019.5 143.8,1020.4 145.4,1020.9 147.1,1021.1 148.8,1022.4 150.4,1024.3 152.1,1025.7 153.8,1025.2 155.5,1027.2 157.2,1028.6 158.8,1028.3 160.5,1030.8 162.2,1030.3 163.8,1032.1 165.5,1032.8 167.2,1033.8 168.9,1034.0 170.6,1035.1 172.2,1036.2 173.9,1036.8 175.5,1038.2 177.1,1038.8 178.7,1039.8 180.3,1040.0 181.9,1042.1 183.6,1042.8 185.2,1043.4 186.8,1045.3 188.4,1046.3 190.0,1046.7 191.7,1047.1 193.3,1048.4 195.0,1048.6 196.7,1049.5 198.4,1050.9 200.1,1051.1 201.7,1052.6 203.4,1053.5 205.1,1053.7 206.8,1055.8 208.4,1055.9 210.1,1058.1 211.8,1059.2 213.5,1059.8 215.1,1060.0 216.8,1061.9 218.5,1062.5 220.2,1064.4 221.8,1063.8 223.5,1065.9 225.2,1067.0 226.8,1067.3 228.5,1068.3 230.2,1068.0 231.9,1070.2 233.5,1070.0 235.2,1071.6 236.9,1072.2 238.6,1071.6 240.2,1073.4 241.9,1074.4 243.6,1073.5 245.3,1074.7 246.9,1076.1 248.6,1075.7 250.3,1077.7 252.0,1077.2 253.7,1078.8 255.3,1078.3 257.0,1079.6 258.9,1081.0 260.8,1080.4 262.7,1081.2 264.6,1082.3 266.5,1082.6 268.4,1082.8 270.3,1083.7 272.2,1084.3 274.1,1086.3 276.0,1086.5 278.0,1087.5 279.9,1086.8 281.8,1088.6 283.7,1088.0 285.6,1089.3 287.5,1090.0 289.4,1090.0 291.4,1091.4 293.3,1091.4 295.2,1091.9 297.1,1093.0 299.0,1092.1 300.9,1094.2 302.8,1094.1 304.8,1094.2 306.7,1095.5 308.6,1095.0 310.5,1096.9 312.4,1096.6 314.3,1096.6 316.2,1097.7 318.2,1097.6 320.1,1097.5 322.0,1098.9 323.9,1098.1 325.8,1100.0 327.7,1099.4 329.6,1100.6 331.6,1101.7 333.5,1101.5 335.4,1102.1 337.3,1102.0 339.2,1101.8 341.0,1102.3 342.9,1103.0 344.8,1104.2 346.7,1104.3 348.5,1104.9 350.4,1106.0 352.3,1105.0 354.2,1105.5 356.1,1106.6 357.9,1105.8 359.8,1106.1 361.7,1107.1 363.6,1107.0 365.5,1107.7 367.4,1107.8 369.3,1108.7 371.2,1109.0 373.1,1108.6 374.9,1109.6 376.8,1109.6 378.7,1109.3 380.6,1111.0 382.5,1110.0 384.4,1110.0 386.3,1110.2 388.1,1111.4 390.0,1112.1 391.9,1112.1 393.8,1111.7 395.7,1111.7 397.6,1111.6 399.6,1113.1 401.6,1113.3 403.5,1113.3" fill="none" stroke="#000" stroke-width="7.2" stroke-linejoin="round" stroke-linecap="butt"/>
<polyline points="75.6,1050.9 75.7,1052.2 75.8,1055.3 75.9,1056.6 76.0,1057.2 76.1,1060.7 76.2,1060.3 76.3,1063.4 76.4,1064.9 76.5,1066.3 76.8,1067.7 77.1,1071.4 77.4,1071.3 77.7,1074.6 78.0,1077.4 78.3,1077.2 78.6,1079.2 79.2,1082.0 79.9,1083.6 80.5,1085.7 83.0,1087.8 86.0,1084.4 88.5,1082.5 90.2,1081.3 91.9,1079.5 93.5,1080.6 95.2,1079.2 96.9,1077.9 98.9,1075.3 100.9,1076.7 102.9,1075.7 104.9,1074.2 106.9,1074.2 108.7,1073.0 110.5,1072.0 112.4,1071.2 114.2,1071.1 116.0,1070.1 117.8,1070.7 119.7,1071.5 121.5,1071.2 123.3,1071.3 125.2,1070.8 127.0,1069.4 129.0,1070.3 131.0,1070.1 133.0,1071.1 135.0,1070.5 137.0,1070.0 139.0,1071.5 141.0,1072.8 143.1,1071.4 145.1,1073.6 147.1,1071.8 149.0,1073.1 150.9,1073.8 152.8,1075.7 154.8,1076.9 156.7,1077.1 158.6,1076.7 160.5,1078.8 162.2,1078.0 163.8,1078.4 165.5,1080.8 167.2,1080.8 168.9,1081.6 170.6,1082.2 172.2,1083.7 173.9,1083.0 175.7,1084.7 177.5,1085.1 179.3,1086.3 181.1,1085.9 182.8,1087.4 184.6,1087.7 186.4,1087.8 188.2,1088.3 190.0,1090.1 191.7,1089.6 193.3,1092.7 195.0,1091.6 196.7,1092.2 198.4,1093.3 200.1,1096.3 201.7,1095.7 203.4,1096.1 205.1,1096.7 206.8,1097.7 208.4,1100.4 210.1,1101.2 211.8,1102.3 213.5,1103.4 215.1,1102.6 216.8,1104.9 218.5,1105.1 220.2,1107.0 221.8,1107.7 223.5,1108.6 225.2,1107.1 226.8,1109.9 228.5,1110.8 230.2,1111.6 231.9,1110.2 233.5,1111.3 235.2,1111.9 236.9,1112.5 238.6,1115.5 240.2,1116.2 241.9,1116.6 243.6,1117.9 245.3,1118.4 246.9,1118.4 248.6,1118.8 250.3,1119.8 252.0,1122.4 253.7,1121.9 255.3,1123.1 257.0,1124.3 258.7,1124.1 260.3,1125.5 262.0,1126.4 263.6,1128.4 265.3,1128.3 267.0,1129.1 268.6,1131.6 270.3,1131.2 272.0,1132.9 273.6,1133.0 275.3,1132.2 277.0,1134.0 278.7,1134.8 280.4,1136.4 282.0,1136.1 283.7,1137.7 285.4,1138.0 287.1,1138.0 288.7,1140.4 290.4,1139.1 292.1,1141.8 293.8,1140.8 295.4,1141.2 297.1,1142.4 298.8,1144.5 300.5,1145.8 302.1,1143.9 303.8,1145.8 305.5,1146.5 307.1,1147.9 308.8,1147.0 310.5,1148.5 312.2,1148.8 313.9,1150.7 315.5,1149.9 317.2,1152.4 318.9,1151.4 320.5,1151.9 322.2,1153.8 323.9,1154.0 325.5,1153.9 327.2,1156.1 328.8,1155.5 330.4,1158.2 332.0,1158.9 333.7,1160.0 335.3,1160.4 337.0,1160.5 338.7,1161.4 340.3,1162.1 342.0,1164.1 343.7,1162.8 345.4,1165.6 347.0,1164.2 348.7,1165.4 350.4,1166.3 352.3,1168.6 354.2,1168.3 356.1,1168.7 357.9,1170.7 359.8,1169.7 361.7,1171.0 363.6,1171.9 365.5,1173.2 367.4,1173.8 369.3,1174.2 371.2,1174.1 373.1,1174.7 374.9,1174.9 376.8,1177.4 378.7,1177.6 380.6,1178.4 382.3,1177.7 384.0,1179.1 385.6,1180.6 387.3,1180.9 389.0,1180.4 390.7,1182.0 392.3,1183.8 394.0,1182.8 395.7,1183.4 397.4,1184.3 399.1,1185.9 400.9,1186.9 402.6,1185.7 404.3,1186.3" fill="none" stroke="#5e5e5e" stroke-width="7.2" stroke-linejoin="round" stroke-linecap="butt"/>
</svg></body></html>
